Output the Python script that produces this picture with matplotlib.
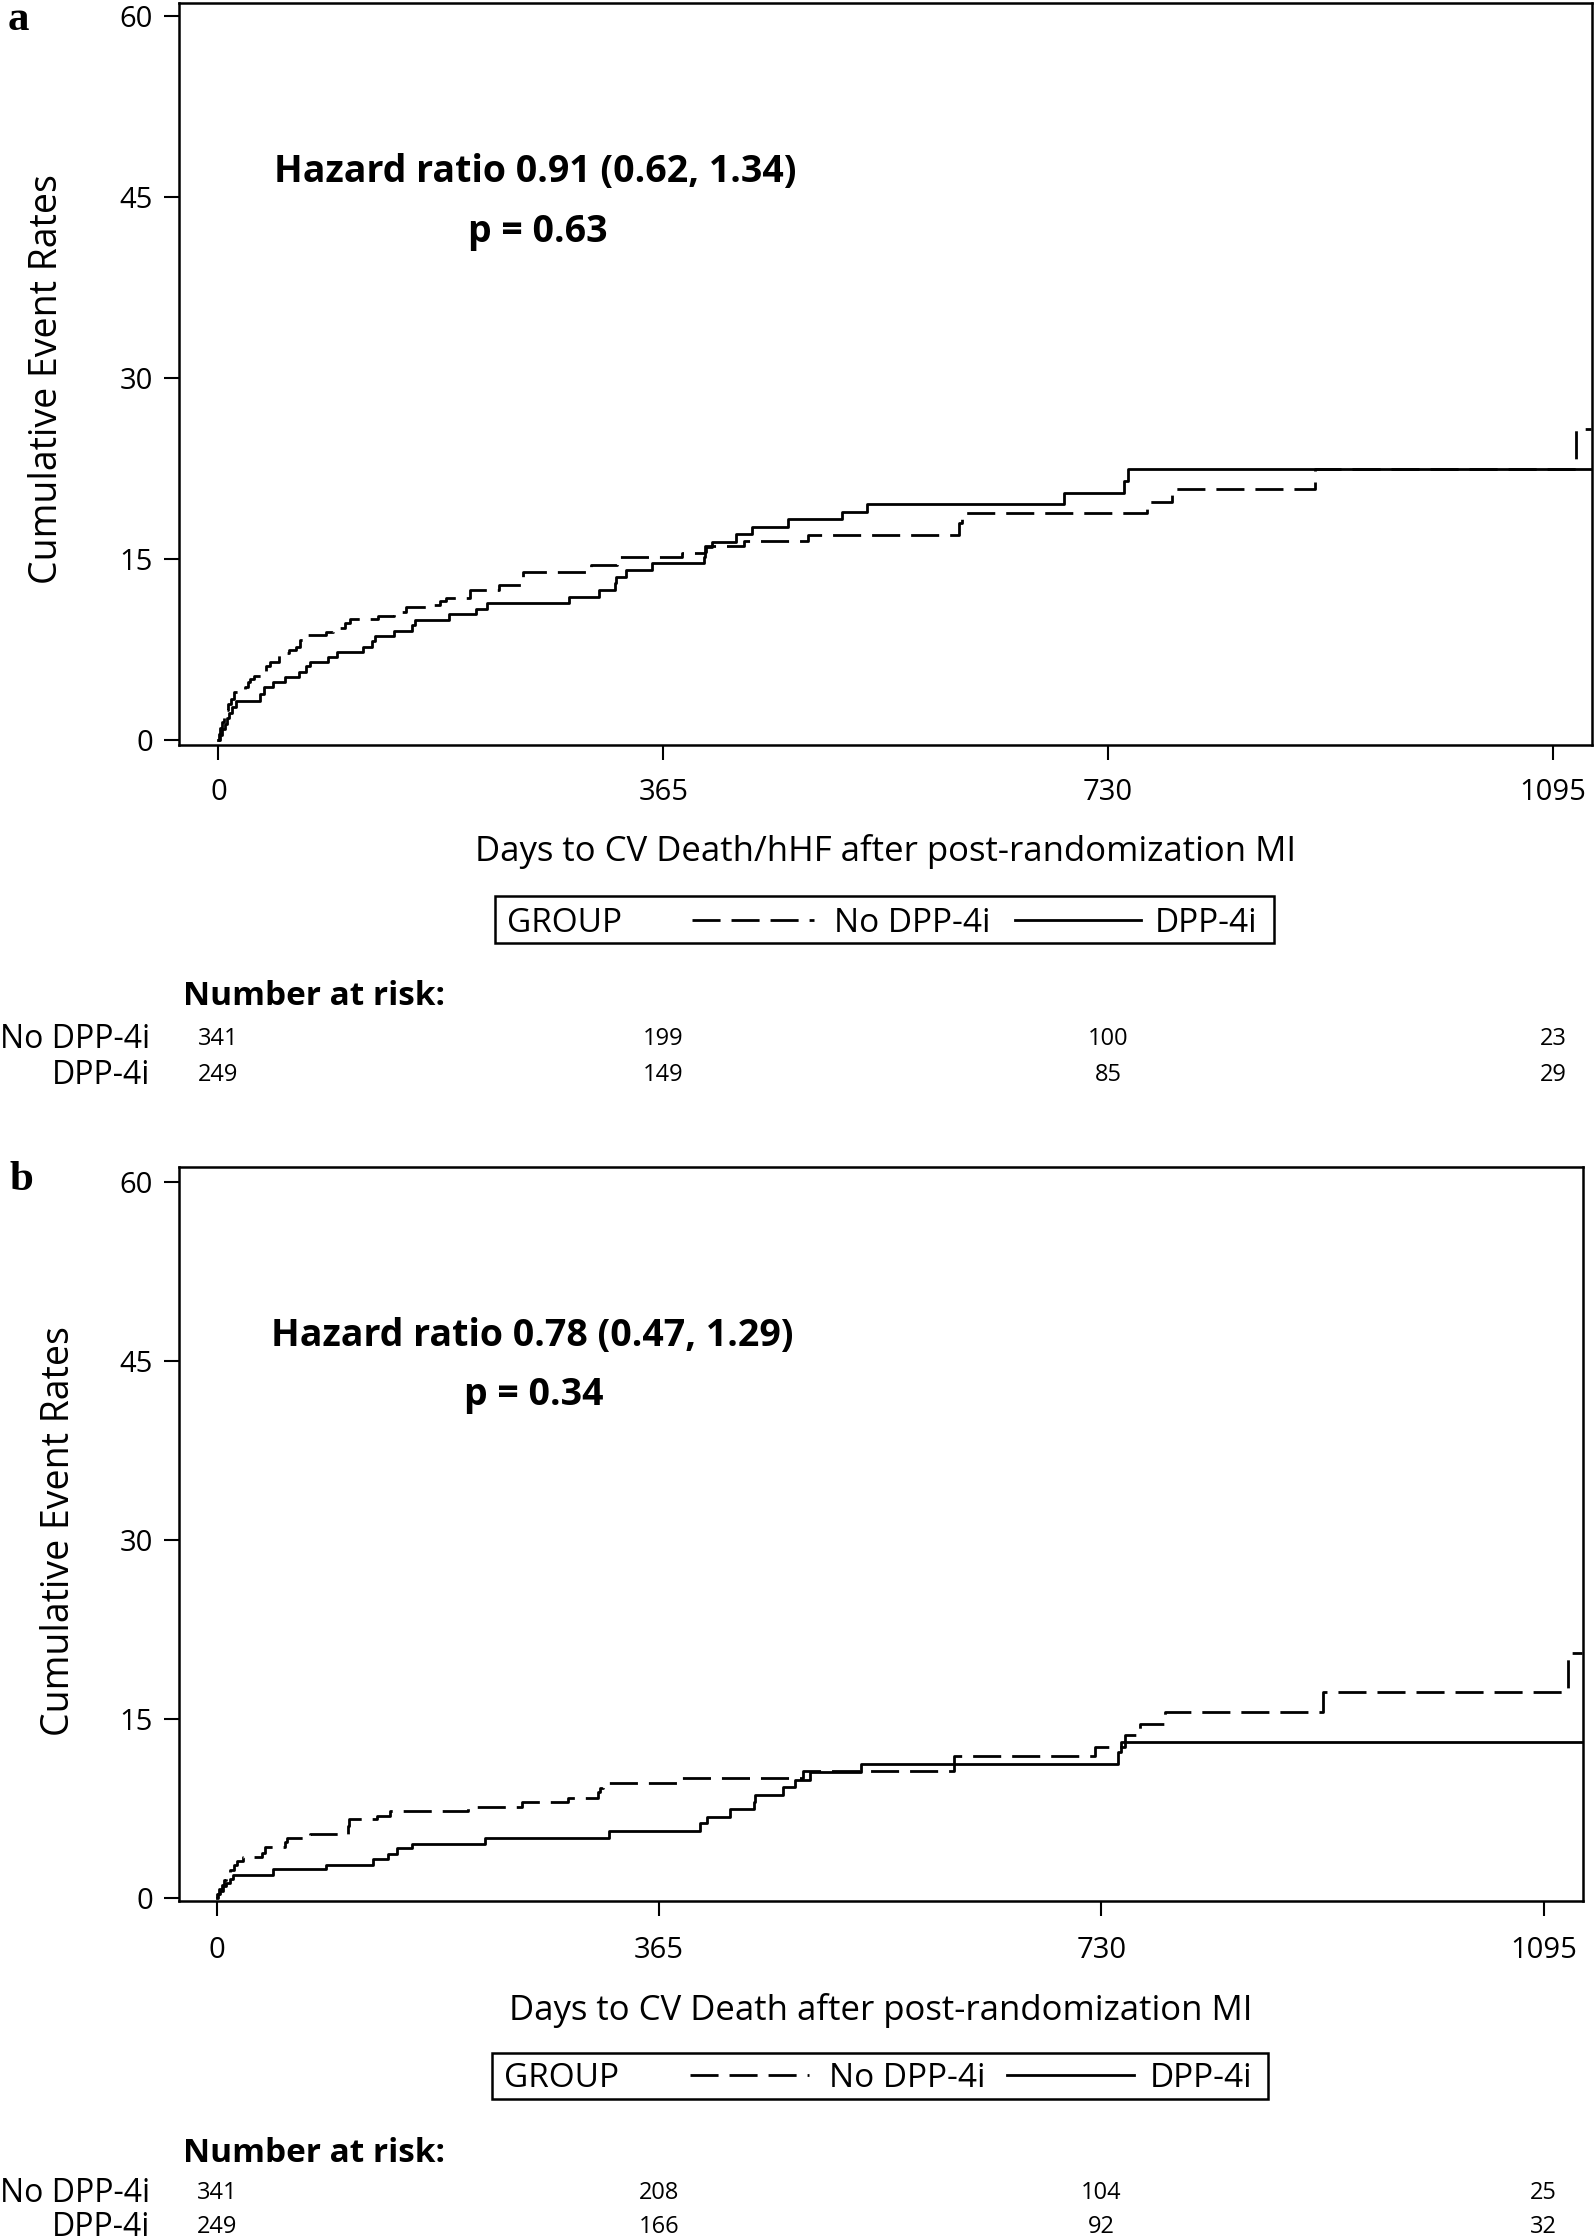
import matplotlib
matplotlib.use("Agg")
import matplotlib.pyplot as plt
from matplotlib.patches import Rectangle
from matplotlib.lines import Line2D
import matplotlib.transforms as mtransforms

plt.rcParams['font.family'] = ['Open Sans', 'DejaVu Sans']

# ---------------- data ----------------
# Panel a: CV Death / hHF
a_dpp_days = [0, 1, 3, 5, 7, 9, 11, 14, 34, 37, 45, 55, 66, 72, 75, 90, 97, 119, 126, 128.5,
              144, 159, 161, 189, 211, 220, 288, 312, 325, 326, 334, 356, 398, 399, 400, 405,
              425, 438, 467, 512, 532, 694, 743, 746, 1126]
a_dpp_rate = [0, 0.45, 0.9, 1.35, 1.8, 2.25, 2.7, 3.2, 3.8, 4.4, 4.85, 5.2, 5.65, 6.1, 6.5, 6.9, 7.3, 7.75, 8.2, 8.65,
              9.05, 9.5, 9.95, 10.45, 10.9, 11.4, 11.9, 12.45, 13.0, 13.55, 14.1, 14.65, 15.2, 15.6, 16.0, 16.45,
              17.1, 17.7, 18.3, 18.9, 19.6, 20.5, 21.5, 22.5, 22.5]

a_no_days = [0, 0.5, 1.5, 3, 4.5, 6, 8, 10, 13, 22, 24, 26, 29, 35, 39, 42, 50, 58, 64, 67, 70,
             88, 94, 104, 108, 131, 144, 154, 174, 182, 187, 206, 230, 250, 306, 327, 380, 399,
             431, 484, 608, 610, 762, 782, 900, 1114, 1126]
a_no_rate = [0, 0.5, 1.0, 1.5, 2.0, 2.5, 3.0, 3.4, 4.0, 4.4, 4.8, 5.1, 5.3, 5.5, 6.1, 6.5, 7.2, 7.5, 7.75, 8.3, 8.7,
             9.0, 9.3, 9.7, 10.0, 10.3, 10.65, 11.05, 11.2, 11.5, 11.8, 12.45, 12.85, 13.95, 14.5, 15.15, 15.55, 16.05,
             16.5, 17.0, 18.0, 18.8, 19.75, 20.85, 22.45, 25.8, 25.8]

# Panel b: CV Death
b_dpp_days = [0, 1, 3, 5, 8, 11, 13.6, 46, 90, 129, 141, 148.5, 161, 221, 324, 399, 405, 424, 443, 444,
              467, 477, 490, 532, 743.5, 746.5, 1127]
b_dpp_rate = [0, 0.3, 0.6, 0.95, 1.25, 1.6, 1.9, 2.38, 2.74, 3.22, 3.66, 4.14, 4.5, 5.0, 5.62, 6.24, 6.74, 7.4, 8.0, 8.6,
              9.26, 9.87, 10.57, 11.19, 12.25, 13.09, 13.09]

b_no_days = [0, 0.5, 2, 4, 6, 8, 11, 14, 17, 22, 37, 40, 56, 58, 77, 108, 109, 132, 143, 207.6, 251.6, 290, 315,
             316, 319, 381, 484, 608.5, 725, 750, 762, 783, 913, 1115, 1127]
b_no_rate = [0, 0.3, 0.7, 1.1, 1.5, 1.9, 2.3, 2.7, 3.1, 3.44, 3.78, 4.28, 4.7, 4.98, 5.32, 6.0, 6.58, 6.85, 7.3, 7.64, 8.05, 8.39, 8.84,
             9.18, 9.65, 10.07, 10.63, 11.89, 12.67, 13.65, 14.57, 15.6, 17.23, 20.55, 20.55]

x_ticks = [0, 365, 730, 1095]
y_ticks = [0, 15, 30, 45, 60]
risk_times = [0, 365, 730, 1095]
a_risk_no = [341, 199, 100, 23]
a_risk_dpp = [249, 149, 85, 29]
b_risk_no = [341, 208, 104, 25]
b_risk_dpp = [249, 166, 92, 32]

group_names = ["No DPP-4i", "DPP-4i"]
a_xlabel = "Days to CV Death/hHF after post-randomization MI"
b_xlabel = "Days to CV Death after post-randomization MI"
a_hr = "Hazard ratio 0.91 (0.62, 1.34)"
a_p = "p = 0.63"
b_hr = "Hazard ratio 0.78 (0.47, 1.29)"
b_p = "p = 0.34"

# ---------------- layout ----------------
W, H = 1595, 2240
LW = 2.0
DASH = (0, (10.1, 3.95))


def fx(x):
    return x / W


def fy(y):
    return 1 - y / H


fig = plt.figure(figsize=(W / 100, H / 100), dpi=100)

panels = [
    dict(box=(178.6, 2.5, 1592, 745), xlim=(-32.7, 1127), ylim=(-0.41, 61.15),
         x_no=a_no_days, y_no=a_no_rate, x_dpp=a_dpp_days, y_dpp=a_dpp_rate,
         letter="a", letter_xy=(8, 30), ylab_xy=(47, 379), xpad=13.0,
         xlabel=a_xlabel, xlabel_y=861, hr=a_hr, p=a_p,
         leg_box=(495, 896, 1274, 943), leg_y=932, leg_x=(507, 692, 814, 834, 1015, 1141, 1155),
         risk_head_y=1005, risk_rows_y=(1037, 1073),
         risk_no=a_risk_no, risk_dpp=a_risk_dpp),
    dict(box=(178.6, 1167.4, 1583, 1901), xlim=(-31.5, 1127.6), ylim=(-0.28, 61.25),
         x_no=b_no_days, y_no=b_no_rate, x_dpp=b_dpp_days, y_dpp=b_dpp_rate,
         letter="b", letter_xy=(9, 1190), ylab_xy=(59, 1531), xpad=14.5,
         xlabel=b_xlabel, xlabel_y=2020, hr=b_hr, p=b_p,
         leg_box=(492, 2053, 1268, 2099), leg_y=2087, leg_x=(504, 690, 809, 829, 1007, 1134, 1150),
         risk_head_y=2162, risk_rows_y=(2191, 2225),
         risk_no=b_risk_no, risk_dpp=b_risk_dpp),
]

for cfg in panels:
    l, t, r, b = cfg['box']
    ax = fig.add_axes([fx(l), fy(b), (r - l) / W, (b - t) / H])
    ax.step(cfg['x_dpp'], cfg['y_dpp'], where='post', color='black', lw=LW)
    ax.step(cfg['x_no'], cfg['y_no'], where='post', color='black', lw=LW, linestyle=DASH)
    ax.set_xlim(*cfg['xlim'])
    ax.set_ylim(*cfg['ylim'])
    ax.set_xticks(x_ticks)
    ax.set_yticks(y_ticks)
    ax.set_xticklabels([str(v) for v in x_ticks], fontsize=21)
    ax.set_yticklabels([str(v) for v in y_ticks], fontsize=21)
    ax.tick_params(axis='both', direction='out', length=11, width=1.5, color='black')
    ax.tick_params(axis='x', pad=cfg['xpad'])
    ax.tick_params(axis='y', pad=7.5)
    for s in ax.spines.values():
        s.set_linewidth(1.8)
        s.set_color('black')

    # hazard ratio annotation
    ax.text(260, 46.3, cfg['hr'], ha='center', va='baseline', fontsize=27, fontweight='bold')
    ax.text(262, 41.3, cfg['p'], ha='center', va='baseline', fontsize=27, fontweight='bold')

    # panel letter
    fig.text(fx(cfg['letter_xy'][0]), fy(cfg['letter_xy'][1]), cfg['letter'],
             family='Liberation Serif', fontweight='bold', fontsize=31, ha='left', va='baseline')

    # y label
    fig.text(fx(cfg['ylab_xy'][0]), fy(cfg['ylab_xy'][1]), "Cumulative Event Rates",
             rotation=90, ha='center', va='center', fontsize=27)

    # x label
    fig.text(fx((l + r) / 2), fy(cfg['xlabel_y']), cfg['xlabel'], ha='center', va='baseline', fontsize=25)

    # legend
    x0, y0, x1, y1 = cfg['leg_box']
    fig.add_artist(Rectangle((fx(x0), fy(y1)), (x1 - x0) / W, (y1 - y0) / H,
                             transform=fig.transFigure, fill=False, lw=1.8, edgecolor='black'))
    gx, d0, d1, tno, s0, s1, tdpp = cfg['leg_x']
    ly = cfg['leg_y']
    fig.text(fx(gx), fy(ly), "GROUP", ha='left', va='baseline', fontsize=24)
    fig.add_artist(Line2D([fx(d0), fx(d1)], [fy(ly - 12)] * 2, transform=fig.transFigure,
                          color='black', lw=LW, linestyle=DASH))
    fig.text(fx(tno), fy(ly), group_names[0], ha='left', va='baseline', fontsize=24)
    fig.add_artist(Line2D([fx(s0), fx(s1)], [fy(ly - 12)] * 2, transform=fig.transFigure,
                          color='black', lw=LW))
    fig.text(fx(tdpp), fy(ly), group_names[1], ha='left', va='baseline', fontsize=24)

    # number at risk
    fig.text(fx(183), fy(cfg['risk_head_y']), "Number at risk:", ha='left', va='baseline',
             fontsize=24, fontweight='bold')
    trans = mtransforms.blended_transform_factory(ax.transData, fig.transFigure)
    for row_y, name, vals in zip(cfg['risk_rows_y'], group_names, (cfg['risk_no'], cfg['risk_dpp'])):
        fig.text(fx(150), fy(row_y + 11), name, ha='right', va='baseline', fontsize=23)
        for tx, v in zip(risk_times, vals):
            fig.text(tx, fy(row_y + 8), str(v), ha='center', va='baseline', fontsize=17, transform=trans)

fig.savefig("out.png", dpi=100)
